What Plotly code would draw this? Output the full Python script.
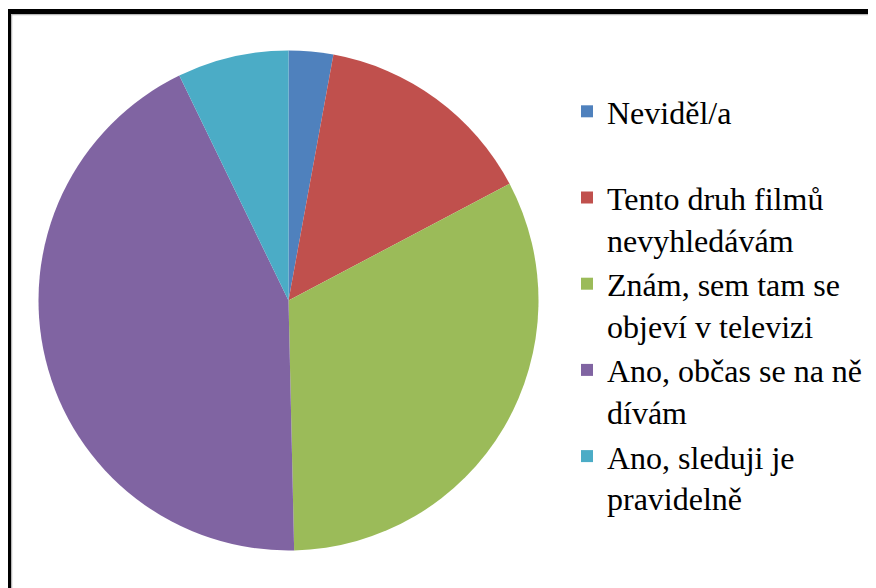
import plotly.graph_objects as go

# page has an 8px body margin, so figure coords = page coords - 8
OFF = 8
W, H = 876 - OFF, 588 - OFF

labels = [
    "Neviděl/a<br> ",
    "Tento druh filmů<br>nevyhledávám",
    "Znám, sem tam se<br>objeví v televizi",
    "Ano, občas se na ně<br>dívám",
    "Ano, sleduji je<br>pravidelně",
]
values = [4, 20, 45, 60, 10]
colors = ["#4F81BD", "#C0504D", "#9BBB59", "#8064A2", "#4BACC6"]

SERIF = "Liberation Serif"

# pie geometry in page pixels
cx, cy, r = 288.5 - OFF, 300.5 - OFF, 250

fig = go.Figure(go.Pie(
    labels=labels,
    values=values,
    sort=False,
    direction="clockwise",
    rotation=0,
    textinfo="none",
    hoverinfo="label+value+percent",
    textfont=dict(family=SERIF),
    marker=dict(colors=colors, line=dict(width=0)),
    domain=dict(x=[(cx - r) / W, (cx + r) / W],
                y=[1 - (cy + r) / H, 1 - (cy - r) / H]),
))

fig.update_layout(
    width=W, height=H,
    margin=dict(l=0, r=0, t=0, b=0),
    paper_bgcolor="white",
    plot_bgcolor="white",
    legend=dict(
        x=559 / W, y=1 - 76 / H, xanchor="left", yanchor="top",
        valign="top",
        bgcolor="rgba(0,0,0,0)",
        font=dict(family=SERIF, size=32, color="black"),
    ),
    shapes=[
        dict(type="rect", xref="paper", yref="paper",
             x0=3.5 / W, x1=1.05, y0=-0.05, y1=1 - 6.5 / H,
             line=dict(color="#b8b8b8", width=1.5), fillcolor="rgba(0,0,0,0)"),
        dict(type="rect", xref="paper", yref="paper",
             x0=0.5 / W, x1=1.05, y0=-0.05, y1=1 - 3.5 / H,
             line=dict(color="black", width=5), fillcolor="rgba(0,0,0,0)"),
    ],
)

fig.write_html("out.html")
